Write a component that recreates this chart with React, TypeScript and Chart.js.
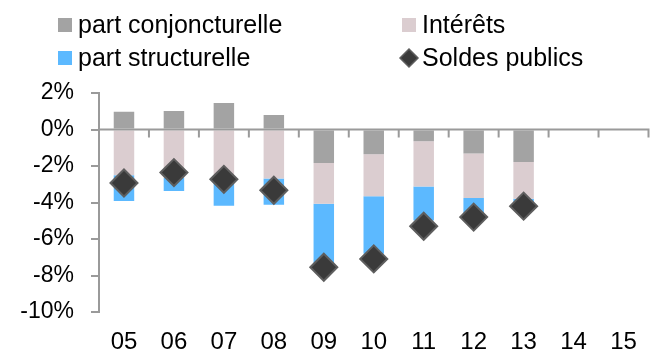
import React, { useEffect, useRef } from "react";
import { Chart, registerables } from "chart.js";

Chart.register(...registerables);

const categories = ["05", "06", "07", "08", "09", "10", "11", "12", "13", "14", "15"];
const partConjoncturelle = [0.97, 1.02, 1.45, 0.8, -1.83, -1.36, -0.64, -1.32, -1.78, null, null];
const interets = [-2.51, -2.66, -2.75, -2.69, -2.24, -2.3, -2.48, -2.44, -2.01, null, null];
const partStructurelle = [-1.41, -0.71, -1.43, -1.43, -3.3, -3.15, -1.86, -0.84, -0.2, null, null];
const soldesPublics = [-2.93, -2.36, -2.73, -3.33, -7.55, -7.09, -5.3, -4.8, -4.2, null, null];
const yMin = -10;
const yMax = 2;
const yStep = 2;

const FONT = "'Liberation Sans', Arial, sans-serif";
const AXIS_COLOR = "#9a9a9a";

const zeroAxisPlugin = {
  id: "zeroAxis",
  afterDatasetsDraw(chart: any) {
    const { ctx, chartArea, scales } = chart;
    const x = scales.x;
    const y = scales.y;
    const y0 = y.getPixelForValue(0);
    ctx.save();
    ctx.strokeStyle = AXIS_COLOR;
    ctx.lineWidth = 2;
    ctx.beginPath();
    ctx.moveTo(chartArea.left, y0);
    ctx.lineTo(chartArea.right + 1, y0);
    const n = chart.data.labels.length;
    for (let i = 1; i <= n; i++) {
      const bx = i < n
        ? (x.getPixelForValue(i - 1) + x.getPixelForValue(i)) / 2
        : chartArea.right;
      ctx.moveTo(bx, y0);
      ctx.lineTo(bx, y0 + 8);
    }
    ctx.stroke();
    ctx.restore();
  },
};

const legendPlugin = {
  id: "customLegend",
  afterDraw(chart: any) {
    const { ctx } = chart;
    const ds = chart.data.datasets;
    const find = (label: string) => ds.find((d: any) => d.label === label);
    const items = [
      { d: find("part conjoncturelle"), x: 58, y: 25 },
      { d: find("Intérêts"), x: 402, y: 25 },
      { d: find("part structurelle"), x: 58, y: 58 },
      { d: find("Soldes publics"), x: 402, y: 58 },
    ];
    ctx.save();
    ctx.font = `25px ${FONT}`;
    ctx.textBaseline = "middle";
    ctx.textAlign = "left";
    for (const it of items) {
      const d = it.d;
      if (d.type === "line") {
        const cx = it.x + 7;
        const r = 9;
        ctx.beginPath();
        ctx.moveTo(cx - r, it.y);
        ctx.lineTo(cx, it.y - r);
        ctx.lineTo(cx + r, it.y);
        ctx.lineTo(cx, it.y + r);
        ctx.closePath();
        ctx.fillStyle = d.pointBackgroundColor;
        ctx.fill();
        ctx.lineWidth = 1.5;
        ctx.strokeStyle = d.pointBorderColor;
        ctx.stroke();
      } else {
        ctx.fillStyle = d.backgroundColor;
        ctx.fillRect(it.x, it.y - 7, 14, 14);
      }
      ctx.fillStyle = "#000";
      ctx.fillText(d.label, it.x + 20, it.y + 1);
    }
    ctx.restore();
  },
};

export default function App() {
  const ref = useRef<HTMLCanvasElement | null>(null);

  useEffect(() => {
    document.body.style.margin = "0";
    const canvas = ref.current;
    if (!canvas) return;
    const chart = new Chart(canvas, {
      data: {
        labels: categories,
        datasets: [
          {
            type: "line",
            label: "Soldes publics",
            data: soldesPublics,
            showLine: false,
            stack: "soldes",
            order: 0,
            pointStyle: "rectRot",
            pointRadius: 13.5,
            pointHoverRadius: 13.5,
            pointBackgroundColor: "#3a3a3a",
            pointBorderColor: "#5e5e5e",
            pointBorderWidth: 2,
            backgroundColor: "#3a3a3a",
            borderColor: "#5e5e5e",
          } as any,
          {
            type: "bar",
            label: "part conjoncturelle",
            data: partConjoncturelle,
            backgroundColor: "#a3a3a3",
            stack: "bars",
            order: 1,
          },
          {
            type: "bar",
            label: "Intérêts",
            data: interets,
            backgroundColor: "#dbcdd0",
            stack: "bars",
            order: 1,
          },
          {
            type: "bar",
            label: "part structurelle",
            data: partStructurelle,
            backgroundColor: "#5cb9ff",
            stack: "bars",
            order: 1,
          },
        ],
      } as any,
      options: {
        animation: false,
        responsive: false,
        maintainAspectRatio: false,
        datasets: {
          bar: { barPercentage: 0.41, categoryPercentage: 1 },
        },
        layout: { padding: { top: 93, right: 8, left: 0, bottom: 0 } },
        plugins: {
          legend: { display: false },
          tooltip: { enabled: false },
        },
        scales: {
          x: {
            type: "category",
            stacked: true,
            offset: true,
            grid: { display: false, drawTicks: false },
            border: { display: false },
            ticks: {
              color: "#000",
              font: { family: FONT, size: 24 },
              padding: 16,
              maxRotation: 0,
              autoSkip: false,
            },
            afterFit(scale: any) {
              scale.height = 41;
            },
          },
          y: {
            stacked: true,
            min: yMin,
            max: yMax,
            grid: {
              drawOnChartArea: false,
              drawTicks: true,
              tickLength: 8,
              color: AXIS_COLOR,
              lineWidth: 2,
            },
            border: { display: true, color: AXIS_COLOR, width: 2 },
            ticks: {
              stepSize: yStep,
              color: "#000",
              font: { family: FONT, size: 23 },
              padding: 17,
              callback: (v: any) => `${v}%`,
            },
            afterFit(scale: any) {
              scale.width = 99;
            },
          },
        },
      } as any,
      plugins: [zeroAxisPlugin, legendPlugin],
    });
    return () => chart.destroy();
  }, []);

  return <canvas ref={ref} width={664} height={353} style={{ display: "block" }} />;
}
